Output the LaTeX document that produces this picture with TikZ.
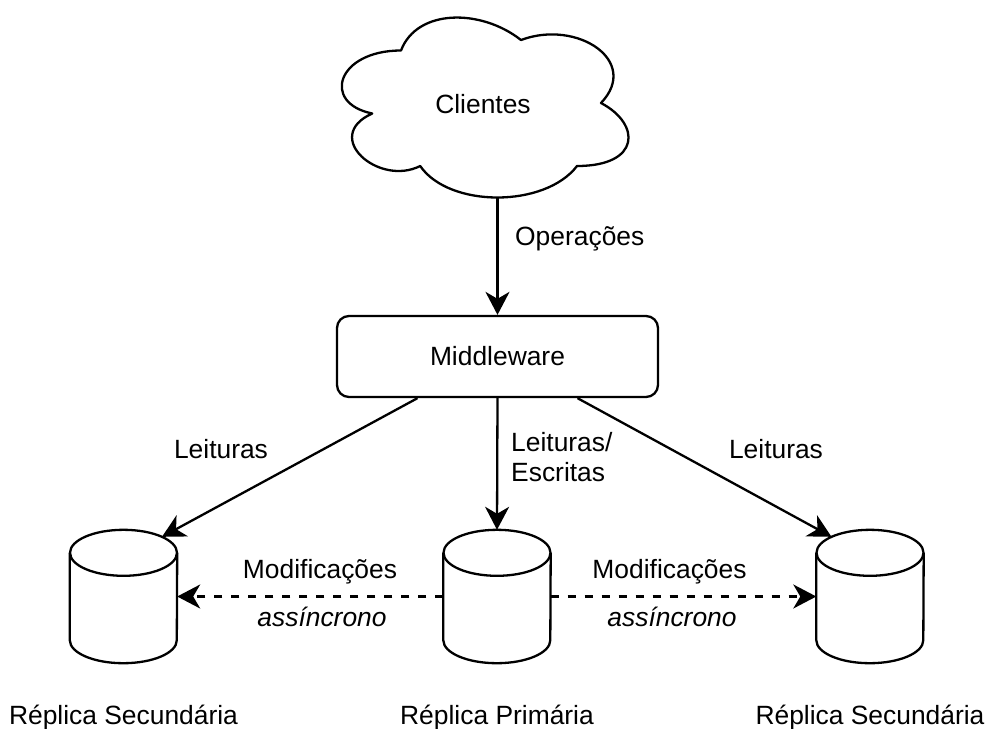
\documentclass[tikz,border=0pt]{standalone}
\usepackage{fontspec}
\setmainfont{Liberation Sans}
\usetikzlibrary{arrows.meta}

\tikzset{
  thickline/.style={line width=2.3pt, line join=round},
  arr/.style={thickline, -{Stealth[length=23pt, width=24pt, inset=7pt]}},
  async/.style={arr, dash pattern=on 8pt off 9pt},
  mwbox/.style={thickline, draw, rounded corners=12pt, minimum width=321pt, minimum height=81pt, inner sep=0pt},
  dbbox/.style={minimum width=107pt, minimum height=133pt, inner sep=0pt},
  lbl/.style={inner sep=0pt}
}

\begin{document}
\begin{tikzpicture}[x=1pt, y=-1pt, font=\fontsize{26.4}{30}\selectfont]
    \useasboundingbox (0,0) rectangle (989,729);

    % Draw the cloud of clients
    \begin{scope}[shift={(321,-2)}, x=320pt, y=-210pt]
        \draw[thickline] (0.25,0.25) .. controls (0.05,0.25) and (0,0.5) .. (0.16,0.55)
            .. controls (0,0.66) and (0.18,0.9) .. (0.31,0.8)
            .. controls (0.4,1) and (0.7,1) .. (0.8,0.8)
            .. controls (1,0.8) and (1,0.6) .. (0.875,0.5)
            .. controls (1,0.3) and (0.8,0.1) .. (0.625,0.2)
            .. controls (0.5,0.05) and (0.3,0.05) .. (0.25,0.25) -- cycle;
    \end{scope}
    \node[lbl, anchor=base] (cli) at (483,113) {Clientes};
    \coordinate (clibot) at (497.5,197.5);

    % Draw the middleware
    \node[mwbox] (mw) at (497.5,356.5) {Middleware};
    \draw[arr] (clibot) -- (clibot |- mw.north);
    \node[lbl, anchor=base west] (ops) at (515,245) {Operações};

    % Draw the three replicas
    \foreach \n/\x/\lbl in {sl/123.5/Réplica Secundária, pr/497/Réplica Primária, sr/870/Réplica Secundária} {
        \node[dbbox] (\n) at (\x,596.5) {};
        \draw[thickline] (\n.north) ++(0,23) ellipse [x radius=53.5, y radius=23];
        \draw[thickline] ([yshift=-23pt]\n.north west) -- ([yshift=23pt]\n.south west)
            arc [start angle=180, end angle=0, x radius=53.5, y radius=23]
            -- ([yshift=-23pt]\n.north east);
        \node[lbl, anchor=base] (\n-name) at (\x,724) {\lbl};
    }

    % Reads and writes
    \draw[arr] ([xshift=-80pt]mw.south) -- ([yshift=-7pt]sl.60);
    \draw[arr] (mw.south) -- (pr.north);
    \draw[arr] ([xshift=80pt]mw.south) -- ([yshift=-7pt]sr.120);
    \node[lbl, anchor=base] (rd-l) at (221,458) {Leituras};
    \node[lbl, anchor=west, align=left] (rw) at (511,457.4) {Leituras/\\Escritas};
    \node[lbl, anchor=base] (rd-r) at (776,458) {Leituras};

    % Asynchronous replication
    \draw[async] (pr.west) -- (sl.east);
    \draw[async] (pr.east) -- (sr.west);
    \node[lbl, anchor=base] (mod-l) at (320,578) {Modificações};
    \node[lbl, anchor=base] (asy-l) at (322,626) {\textit{assíncrono}};
    \node[lbl, anchor=base] (mod-r) at (669.5,578) {Modificações};
    \node[lbl, anchor=base] (asy-r) at (672,626) {\textit{assíncrono}};

\end{tikzpicture}
\end{document}
